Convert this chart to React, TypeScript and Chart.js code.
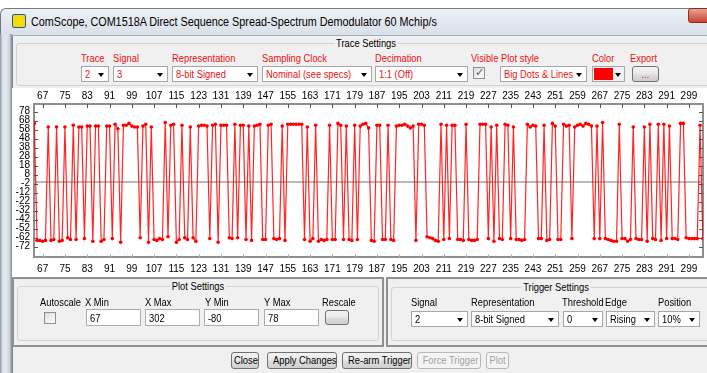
import React, { useEffect, useRef } from 'react';
import { Chart, registerables } from 'chart.js';

Chart.register(...registerables);

// ---------- data ----------
const SAMPLE_START = 64; // x of first sample
const TRACE_2_VALUES: number[] = [
  65,
  -65, -65, -66, -65, 61, -65, -64, 61, -66, -65,
  61, -62, -64, 63, -64, 61, 61, -63, 62, 62,
  -66, 62, 62, -66, -64, 62, 62, -63, 64, 59,
  -67, 63, 63, 65, 62, 61, 61, -62, 62, 64,
  -67, 61, -64, -65, -63, -64, 66, -61, 63, 64,
  -67, -64, 63, -62, -64, 61, -62, -66, 62, 63,
  63, 62, -63, 63, 64, -67, 63, 63, 63, -62,
  -63, 64, -62, 63, 63, -64, 62, -65, 62, 63,
  64, -64, -64, 63, 64, -63, -64, -63, 62, -65,
  64, 64, 64, 64, 64, 64, -64, 61, -66, -63,
  63, -66, -64, -65, -64, 63, -64, -64, 65, 63,
  -64, 62, -64, -65, 63, -64, 62, 64, 65, 60,
  -65, -66, 63, 63, -64, -64, 63, -64, -65, 62,
  63, 63, 64, 62, 60, 62, -65, 64, 64, 63,
  -61, -62, -63, -65, -66, 64, -64, 63, -63, 63,
  63, -64, -64, -65, 64, -64, -65, -65, -64, 64,
  64, 64, -63, 61, -66, 63, -63, -64, 64, 63,
  -63, 61, -64, -64, -65, -64, 64, 61, 63, 62,
  -63, -63, 63, -65, -64, 65, 62, -64, -64, 64,
  62, 63, -63, 61, 63, 64, 62, 65, 64, 62,
  -63, 62, -63, 66, -63, -64, -65, -66, -66, 64,
  -63, -63, -66, -64, 61, -63, -64, -64, 61, -66,
  64, -63, -64, 64, -65, 64, -63, 62, -63, -63,
  -64, 65, 65, -62, -63, -63, -63, -63, 63, -63,
];
const X_TICKS = [67, 75, 83, 91, 99, 107, 115, 123, 131, 139, 147, 155, 163, 171, 179, 187, 195, 203, 211, 219, 227, 235, 243, 251, 259, 267, 275, 283, 291, 299];
const Y_TICKS = [78, 68, 58, 48, 38, 28, 18, 8, -2, -12, -22, -32, -42, -52, -62, -72];
const X_MIN = 63.89;
const X_MAX = 304.05;
const Y_MIN = -83.44;
const Y_MAX = 86.56;

const UI_FONT = "'Liberation Sans',Arial,sans-serif";
const SQUEEZE = 'scaleX(0.85)';

// ---------- chart plugin: inward tick marks + zero line ----------
const innerTicks = {
  id: 'innerTicks',
  beforeDatasetsDraw(chart: any) {
    const { ctx, chartArea: a, scales } = chart;
    ctx.save();
    const y0 = Math.round(scales.y.getPixelForValue(0));
    ctx.strokeStyle = '#b9b9b9';
    ctx.lineWidth = 2;
    ctx.beginPath();
    ctx.moveTo(a.left, y0);
    ctx.lineTo(a.right, y0);
    ctx.stroke();
    ctx.lineWidth = 1;
    ctx.strokeStyle = '#555';
    ctx.beginPath();
    X_TICKS.forEach((v) => {
      const x = Math.round(scales.x.getPixelForValue(v)) + 0.5;
      ctx.moveTo(x, a.top);
      ctx.lineTo(x, a.top + 4);
    });
    Y_TICKS.forEach((v) => {
      const y = Math.round(scales.y.getPixelForValue(v)) + 0.5;
      ctx.moveTo(a.left, y);
      ctx.lineTo(a.left + 4, y);
      ctx.moveTo(a.right, y);
      ctx.lineTo(a.right - 4, y);
    });
    ctx.stroke();
    ctx.strokeStyle = '#bbb';
    ctx.beginPath();
    X_TICKS.forEach((v) => {
      const x = Math.round(scales.x.getPixelForValue(v)) + 0.5;
      ctx.moveTo(x, a.bottom);
      ctx.lineTo(x, a.bottom - 3);
    });
    ctx.stroke();
    ctx.restore();
  },
};

const tickFont = { family: UI_FONT, size: 10 };
const axisBorder = { display: true, color: '#8f8f8f', width: 2 };
const noGrid = { display: false, drawTicks: false, tickLength: 0 };

function TraceChart() {
  const ref = useRef<HTMLCanvasElement>(null);
  useEffect(() => {
    if (!ref.current) return;
    const chart = new Chart(ref.current, {
      type: 'line',
      data: {
        datasets: [
          {
            label: 'Trace 2',
            data: TRACE_2_VALUES.map((v, i) => ({ x: SAMPLE_START + i, y: v })),
            borderColor: 'rgba(255,0,0,0.85)',
            borderWidth: 1.2,
            pointRadius: 1.8,
            pointBackgroundColor: '#ff0000',
            pointBorderWidth: 0,
            tension: 0,
            xAxisID: 'x',
            yAxisID: 'y',
          },
        ],
      },
      options: {
        responsive: false,
        animation: false,
        devicePixelRatio: 1,
        layout: { padding: 0 },
        plugins: { legend: { display: false }, tooltip: { enabled: false } },
        scales: {
          x: {
            type: 'linear',
            position: 'bottom',
            min: X_MIN,
            max: X_MAX,
            afterBuildTicks: (s: any) => { s.ticks = X_TICKS.map((v) => ({ value: v })); },
            afterFit: (s: any) => { s.height = 21; },
            grid: noGrid,
            border: axisBorder,
            ticks: { color: '#000', font: tickFont, padding: 6, maxRotation: 0, autoSkip: false },
          },
          xTop: {
            type: 'linear',
            position: 'top',
            min: X_MIN,
            max: X_MAX,
            afterBuildTicks: (s: any) => { s.ticks = X_TICKS.map((v) => ({ value: v })); },
            afterFit: (s: any) => { s.height = 16; },
            grid: noGrid,
            border: axisBorder,
            ticks: { color: '#000', font: tickFont, padding: 2, maxRotation: 0, autoSkip: false },
          },
          y: {
            type: 'linear',
            position: 'left',
            min: Y_MIN,
            max: Y_MAX,
            afterBuildTicks: (s: any) => { s.ticks = Y_TICKS.map((v) => ({ value: v })); },
            afterFit: (s: any) => { s.width = 22; },
            grid: noGrid,
            border: axisBorder,
            ticks: { color: '#000', font: tickFont, padding: 4, autoSkip: false },
          },
          yRight: {
            type: 'linear',
            position: 'right',
            min: Y_MIN,
            max: Y_MAX,
            afterFit: (s: any) => { s.width = 2; },
            grid: noGrid,
            border: axisBorder,
            ticks: { display: false },
          },
        },
      },
      plugins: [innerTicks],
    } as any);
    return () => chart.destroy();
  }, []);
  return (
    <canvas
      ref={ref}
      width={695}
      height={190}
      style={{ position: 'absolute', left: 12, top: 88, width: 695, height: 190, background: '#fff' }}
    />
  );
}

// ---------- UI pieces ----------
const abs = (x: number, y: number, w?: number, h?: number): React.CSSProperties => ({
  position: 'absolute', left: x, top: y, width: w, height: h, boxSizing: 'border-box',
});

function Label({ x, y, text, color = '#000', size = 11 }: any) {
  return (
    <div style={{ ...abs(x, y), fontSize: size, lineHeight: '13px', color, whiteSpace: 'nowrap', transform: SQUEEZE, transformOrigin: '0 0' }}>{text}</div>
  );
}

function Arrow({ x, y }: any) {
  return (
    <div style={{ position: 'absolute', left: x, top: y, width: 0, height: 0,
      borderLeft: '3.5px solid transparent', borderRight: '3.5px solid transparent', borderTop: '4px solid #000' }} />
  );
}

function Combo({ x, y, w, h = 16, text, color = '#000' }: any) {
  return (
    <div style={{ ...abs(x, y, w, h), border: '1px solid #a3a8ae', background: '#fff' }}>
      <div style={{ position: 'absolute', left: 3, top: 0, fontSize: 11, lineHeight: '14px', color, whiteSpace: 'nowrap', transform: SQUEEZE, transformOrigin: '0 0' }}>{text}</div>
      <Arrow x={w - 12} y={h / 2 - 2} />
    </div>
  );
}

function Input({ x, y, w, h = 17, text }: any) {
  return (
    <div style={{ ...abs(x, y, w, h), border: '1px solid #abadb3', background: '#fff' }}>
      <div style={{ position: 'absolute', left: 3, top: 1, fontSize: 11, lineHeight: '14px', transform: SQUEEZE, transformOrigin: '0 0' }}>{text}</div>
    </div>
  );
}

function Button({ x, y, w, h = 16, text = '', disabled = false, color = '#000' }: any) {
  return (
    <div style={{ ...abs(x, y, w, h), border: `1px solid ${disabled ? '#b5b8bb' : '#707070'}`, borderRadius: 3,
      background: disabled ? '#f4f4f4' : 'linear-gradient(#f3f3f3,#ebebeb 45%,#dddddd 55%,#cfcfcf)' }}>
      <div style={{ position: 'absolute', left: 0, right: 0, top: 0, textAlign: 'center', fontSize: 11, lineHeight: `${h - 2}px`,
        color: disabled ? '#a0a0a0' : color, whiteSpace: 'nowrap', transform: SQUEEZE }}>{text}</div>
    </div>
  );
}

function GroupBox({ x, y, w, h, title }: any) {
  return (
    <div style={{ ...abs(x, y, w, h), border: '1px solid #cdd3d8', borderRadius: 3 }}>
      <div style={{ position: 'absolute', left: '50%', top: -7, transform: `translateX(-50%) ${SQUEEZE}`, background: '#f0f0f0',
        padding: '0 2px', fontSize: 11, lineHeight: '13px', whiteSpace: 'nowrap' }}>{title}</div>
    </div>
  );
}

function CheckBox({ x, y, checked }: any) {
  return (
    <div style={{ ...abs(x, y, 12, 12), border: '1px solid #8f8f8f', background: 'linear-gradient(135deg,#dcdcdc,#fff)' }}>
      {checked ? (
        <div style={{ position: 'absolute', left: 1, top: -2, fontSize: 11, color: '#3d5f99', fontFamily: 'DejaVu Sans' }}>✓</div>
      ) : null}
    </div>
  );
}

const RED = '#ee1111';

export default function App() {
  return (
    <div style={{ position: 'fixed', left: 0, top: 0, width: 707, height: 373, overflow: 'hidden', background: '#fff', fontFamily: UI_FONT }}>
      {/* window frame */}
      <div style={{ ...abs(0, 8, 760, 27), background: 'linear-gradient(#eef1f5,#d9e0e8)', borderTop: '1px solid #6f7a86', borderLeft: '1px solid #6f7a86', borderTopLeftRadius: 6 }} />
      <div style={{ ...abs(0, 34, 12, 340), background: 'linear-gradient(90deg,#8a949e,#d9e0e8 20%,#e6ebf0 50%,#c9d1da 80%,#7d8792)' }} />
      <div style={{ ...abs(12, 14, 14, 14), background: '#f4dc00', border: '1px solid #2a55a8', borderRadius: 2 }} />
      <div style={{ ...abs(31, 15), fontSize: 12, lineHeight: '14px', color: '#000', whiteSpace: 'nowrap', transform: 'scaleX(0.9)', transformOrigin: '0 0' }}>
        ComScope, COM1518A Direct Sequence Spread-Spectrum Demodulator 60 Mchip/s
      </div>
      <div style={{ ...abs(688, 8, 30, 15), background: 'linear-gradient(#e9a595,#c84331)', border: '1px solid #8a2a20', borderRadius: 3 }} />

      {/* content */}
      <div style={{ ...abs(12, 35, 700, 340), background: '#f0f0f0', borderTop: '1px solid #a7adb3', borderLeft: '1px solid #7f8790' }} />

      {/* Trace settings */}
      <GroupBox x={16} y={43} w={700} h={43} title="Trace Settings" />
      <Label x={81} y={52} text="Trace" color={RED} />
      <Label x={113} y={52} text="Signal" color={RED} />
      <Label x={172} y={52} text="Representation" color={RED} />
      <Label x={262} y={52} text="Sampling Clock" color={RED} />
      <Label x={375} y={52} text="Decimation" color={RED} />
      <Label x={471} y={52} text="Visible" color={RED} />
      <Label x={501} y={52} text="Plot style" color={RED} />
      <Label x={592} y={52} text="Color" color={RED} />
      <Label x={630} y={52} text="Export" color={RED} />
      <Combo x={81} y={66} w={28} text="2" color={RED} />
      <Combo x={113} y={66} w={55} text="3" color={RED} />
      <Combo x={172} y={66} w={86} text="8-bit Signed" color={RED} />
      <Combo x={262} y={66} w={110} text="Nominal (see specs)" color={RED} />
      <Combo x={375} y={66} w={93} text="1:1 (Off)" color={RED} />
      <CheckBox x={473} y={67} checked />
      <Combo x={500} y={66} w={87} text="Big Dots & Lines" color={RED} />
      <div style={{ ...abs(592, 66, 33, 16), border: '1px solid #a3a8ae', background: '#f0f0f0' }}>
        <div style={{ ...abs(1, 1, 19, 12), background: '#ff0000' }} />
        <Arrow x={22} y={6} />
      </div>
      <Button x={632} y={66} w={27} h={16} text="..." color={RED} />

      {/* chart */}
      <TraceChart />

      {/* Plot settings */}
      <div style={{ ...abs(12, 277, 372, 70), border: '2px solid #8d9196' }} />
      <GroupBox x={17} y={286} w={362} h={55} title="Plot Settings" />
      <Label x={40} y={296} text="Autoscale" />
      <CheckBox x={44} y={312} />
      <Label x={85} y={296} text="X Min" />
      <Input x={86} y={309} w={55} text="67" />
      <Label x={145} y={296} text="X Max" />
      <Input x={145} y={309} w={55} text="302" />
      <Label x={205} y={296} text="Y Min" />
      <Input x={204} y={309} w={55} text="-80" />
      <Label x={264} y={296} text="Y Max" />
      <Input x={264} y={309} w={55} text="78" />
      <Label x={322} y={296} text="Rescale" />
      <Button x={325} y={310} w={24} h={15} />

      {/* Trigger settings */}
      <div style={{ ...abs(386, 277, 340, 70), border: '2px solid #8d9196' }} />
      <GroupBox x={391} y={287} w={330} h={54} title="Trigger Settings" />
      <Label x={411} y={296} text="Signal" />
      <Combo x={411} y={311} w={57} text="2" />
      <Label x={471} y={296} text="Representation" />
      <Combo x={471} y={311} w={88} text="8-bit Signed" />
      <Label x={562} y={296} text="Threshold" />
      <Combo x={563} y={311} w={40} text="0" />
      <Label x={605} y={296} text="Edge" />
      <Combo x={606} y={311} w={49} text="Rising" />
      <Label x={658} y={296} text="Position" />
      <Combo x={658} y={311} w={42} text="10%" />

      {/* bottom buttons */}
      <Button x={231} y={352} w={28} h={17} text="Close" />
      <Button x={267} y={352} w={70} h={17} text="Apply Changes" />
      <Button x={342} y={352} w={70} h={17} text="Re-arm Trigger" />
      <Button x={417} y={352} w={64} h={17} text="Force Trigger" disabled />
      <Button x={486} y={352} w={23} h={17} text="Plot" disabled />
    </div>
  );
}
